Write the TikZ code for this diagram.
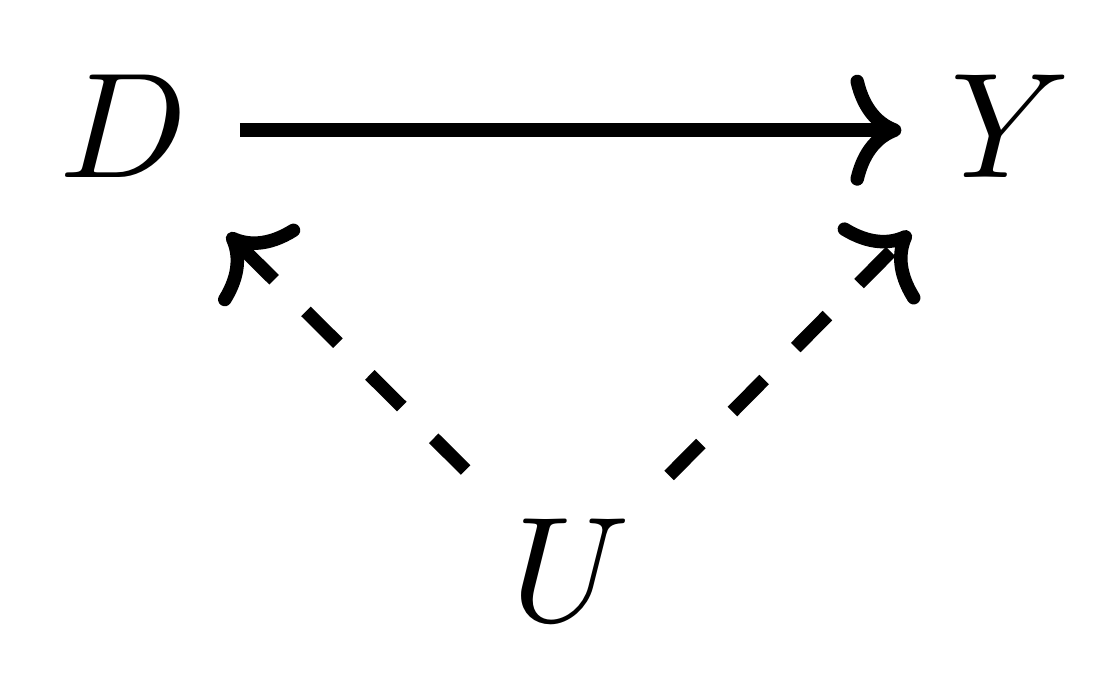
\documentclass[tikz,border=0pt]{standalone}
\usetikzlibrary{arrows.meta}
\begin{document}
\begin{tikzpicture}[x=1pt,y=1pt,
  var/.style={inner sep=0pt,text height=6.3pt,text depth=0pt},
  edge/.style={line width=0.9pt,-{Computer Modern Rightarrow[length=3.4pt,width=7.4pt,line width=0.9pt]}},
  hidden/.style={edge,dashed}]
\useasboundingbox (0,0) rectangle (73.6,45.53);
\node[var] (D) at (8.23,36.85) {$D$};
\node[var] (Y) at (67.4,36.85) {$Y$};
\node[var] (U) at (38.07,7.22) {$U$};
\draw[edge,shorten <=7.77pt,shorten >=7.3pt] (D.center) -- (Y.center);
\draw[hidden,shorten <=9.9pt,shorten >=9.8pt] (U.center) -- (D.center);
\draw[hidden,shorten <=9.3pt,shorten >=9.55pt] (U.center) -- (Y.center);
\end{tikzpicture}
\end{document}
